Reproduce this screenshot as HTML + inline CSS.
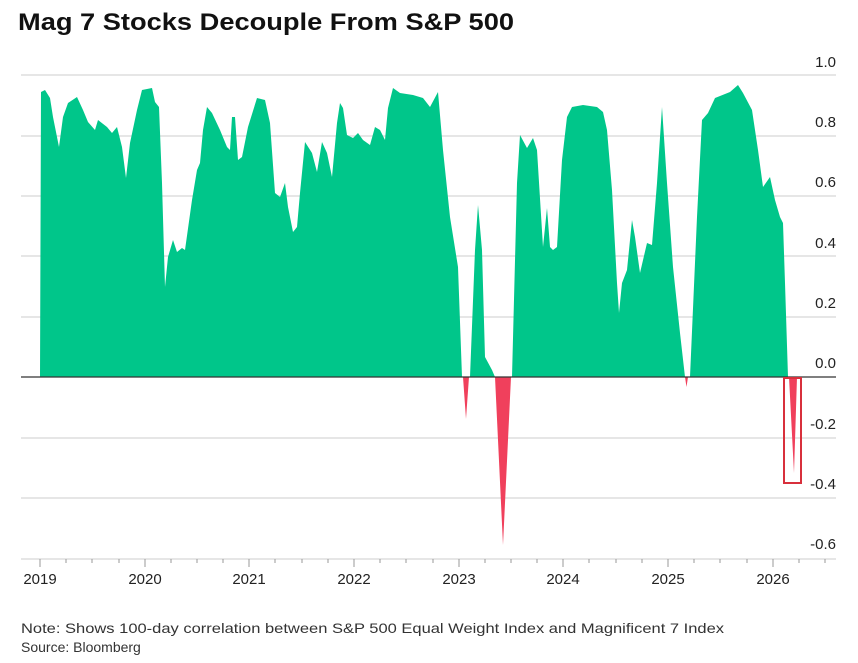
<!DOCTYPE html>
<html><head><meta charset="utf-8"><style>
html,body{margin:0;padding:0;background:#fff;}
svg{display:block;font-family:"Liberation Sans",Arial,sans-serif;}
</style></head><body>
<svg width="858" height="663" viewBox="0 0 858 663" xmlns="http://www.w3.org/2000/svg">
<rect width="858" height="663" fill="#fff"/>
<text x="18" y="30" font-size="24" font-weight="bold" fill="#111" textLength="496" lengthAdjust="spacingAndGlyphs">Mag 7 Stocks Decouple From S&amp;P 500</text>
<g stroke="#dedede" stroke-width="1.5">
<line x1="21" y1="75" x2="836" y2="75"/>
<line x1="21" y1="136" x2="836" y2="136"/>
<line x1="21" y1="196" x2="836" y2="196"/>
<line x1="21" y1="256" x2="836" y2="256"/>
<line x1="21" y1="317" x2="836" y2="317"/>
<line x1="21" y1="438" x2="836" y2="438"/>
<line x1="21" y1="498" x2="836" y2="498"/>
<line x1="21" y1="559" x2="836" y2="559"/>
</g>
<path fill="#00c68a" d="M40,377 L41,92 L45,90 L50,98 L53,117 L59,147 L63,117 L68,103 L77,97 L83,110 L88,122 L95,130 L98,120 L107,127 L112,133 L117,127 L122,147 L126,178 L130,143 L137,110 L142,90 L152,88 L155,102 L159,107 L162,183 L165,287 L168,257 L173,240 L177,252 L182,248 L185,250 L192,200 L197,170 L200,163 L203,130 L207,107 L212,113 L220,130 L227,147 L230,150 L232,117 L235,117 L238,160 L242,157 L248,127 L257,98 L265,100 L270,123 L275,193 L280,197 L285,183 L288,207 L293,232 L297,227 L300,193 L305,142 L312,153 L317,172 L322,142 L327,153 L332,177 L337,123 L340,103 L343,108 L347,135 L353,138 L358,133 L363,140 L370,145 L375,127 L380,130 L385,140 L388,108 L393,88 L400,93 L413,95 L423,98 L430,107 L438,92 L443,150 L450,217 L458,267 L462,377 Z
M470,377 L475,250 L478,205 L482,250 L485,357 L492,370 L495,377 Z
M512,377 L517,183 L520,135 L527,148 L533,138 L537,150 L543,247 L547,208 L550,247 L553,250 L557,247 L562,160 L567,117 L572,107 L583,105 L597,107 L603,112 L607,130 L612,190 L617,283 L619,313 L622,283 L627,270 L632,220 L635,237 L640,273 L647,243 L652,245 L657,183 L662,107 L667,183 L673,267 L680,333 L685,377 Z
M690,377 L697,217 L702,120 L708,113 L715,98 L730,92 L738,85 L743,93 L752,110 L758,150 L763,187 L770,177 L775,200 L780,217 L783,223 L785,283 L788,377 Z"/>
<path fill="#f0405c" d="M463,377 L466,419 L469,377 Z M495,377 L503,545 L511,377 Z M685,377 L686.5,387 L688,377 Z M789,377 L794,473 L797,377 Z"/>
<line x1="21" y1="377" x2="836" y2="377" stroke="#333" stroke-width="1.3"/>
<rect x="784" y="378" width="17" height="105" fill="none" stroke="#d8303c" stroke-width="2"/>
<g stroke="#999" stroke-width="1">
<line x1="40" y1="559" x2="40" y2="567"/><line x1="145" y1="559" x2="145" y2="567"/><line x1="249" y1="559" x2="249" y2="567"/><line x1="354" y1="559" x2="354" y2="567"/><line x1="459" y1="559" x2="459" y2="567"/><line x1="563" y1="559" x2="563" y2="567"/><line x1="668" y1="559" x2="668" y2="567"/><line x1="773" y1="559" x2="773" y2="567"/>
<line x1="66" y1="559" x2="66" y2="563"/><line x1="92" y1="559" x2="92" y2="563"/><line x1="119" y1="559" x2="119" y2="563"/>
<line x1="171" y1="559" x2="171" y2="563"/><line x1="197" y1="559" x2="197" y2="563"/><line x1="223" y1="559" x2="223" y2="563"/>
<line x1="275" y1="559" x2="275" y2="563"/><line x1="302" y1="559" x2="302" y2="563"/><line x1="328" y1="559" x2="328" y2="563"/>
<line x1="380" y1="559" x2="380" y2="563"/><line x1="406" y1="559" x2="406" y2="563"/><line x1="433" y1="559" x2="433" y2="563"/>
<line x1="485" y1="559" x2="485" y2="563"/><line x1="511" y1="559" x2="511" y2="563"/><line x1="537" y1="559" x2="537" y2="563"/>
<line x1="589" y1="559" x2="589" y2="563"/><line x1="616" y1="559" x2="616" y2="563"/><line x1="642" y1="559" x2="642" y2="563"/>
<line x1="694" y1="559" x2="694" y2="563"/><line x1="720" y1="559" x2="720" y2="563"/><line x1="747" y1="559" x2="747" y2="563"/>
<line x1="799" y1="559" x2="799" y2="563"/><line x1="825" y1="559" x2="825" y2="563"/>
</g>
<g font-size="15" fill="#222" text-anchor="middle">
<text x="40" y="584">2019</text><text x="145" y="584">2020</text><text x="249" y="584">2021</text><text x="354" y="584">2022</text><text x="459" y="584">2023</text><text x="563" y="584">2024</text><text x="668" y="584">2025</text><text x="773" y="584">2026</text>
</g>
<g font-size="15" fill="#222" text-anchor="end">
<text x="836" y="67">1.0</text><text x="836" y="127">0.8</text><text x="836" y="187">0.6</text><text x="836" y="248">0.4</text><text x="836" y="308">0.2</text><text x="836" y="368">0.0</text><text x="836" y="429">-0.2</text><text x="836" y="489">-0.4</text><text x="836" y="549">-0.6</text>
</g>
<text x="21" y="633" font-size="14" fill="#333" textLength="703" lengthAdjust="spacingAndGlyphs">Note: Shows 100-day correlation between S&amp;P 500 Equal Weight Index and Magnificent 7 Index</text>
<text x="21" y="652" font-size="14" fill="#333">Source: Bloomberg</text>
</svg>
</body></html>
